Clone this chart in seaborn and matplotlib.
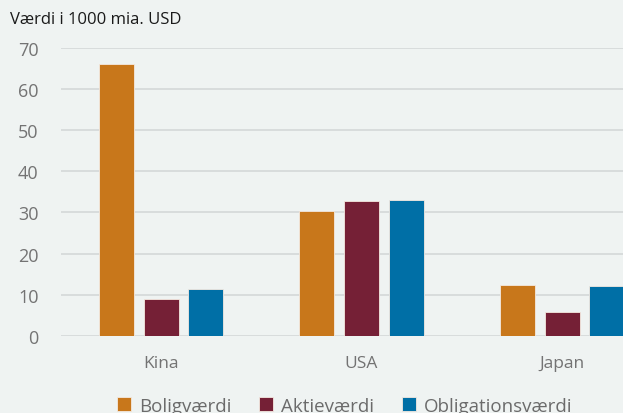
import matplotlib
matplotlib.use("Agg")
import matplotlib.pyplot as plt
import seaborn as sns
import pandas as pd

countries = ['Kina', 'USA', 'Japan']
series = ['Boligværdi', 'Aktieværdi', 'Obligationsværdi']
bolig = [66.1, 30.4, 12.4]
aktie = [8.9, 32.8, 5.8]
oblig = [11.4, 33.1, 12.1]
yticks = [0, 10, 20, 30, 40, 50, 60, 70]
colors = ['#C8771B', '#752036', '#006FA6']

df = pd.DataFrame({
    'Land': countries * 3,
    'Type': [s for s in series for _ in countries],
    'Værdi': bolig + aktie + oblig,
})

bg = '#EFF3F2'
sns.set_theme(style="white")
plt.rcParams['font.family'] = ['Open Sans', 'DejaVu Sans']

fig = plt.figure(figsize=(6.23, 4.14), dpi=100, facecolor=bg)
ax = fig.add_axes([60.8 / 623, 77.3 / 414, (623 - 60.8) / 623, 287.7 / 414])
ax.set_facecolor(bg)

sns.barplot(data=df, x='Land', y='Værdi', hue='Type', order=countries,
            hue_order=series, palette=colors, width=0.672, gap=0.22,
            edgecolor='#f4e9e0', linewidth=0.6, saturation=1, ax=ax)

ax.set_xlim(-0.5, 2.304)
ax.set_ylim(0, 70)
ax.set_yticks(yticks)
ax.yaxis.grid(True, color='#d6dada', linewidth=1.3)
ax.set_axisbelow(True)
for s in ax.spines.values():
    s.set_visible(False)
ax.tick_params(axis='y', length=0, pad=16, labelsize=13, labelcolor='#737373')
ax.tick_params(axis='x', length=0, pad=14, labelsize=12.5, labelcolor='#737373')
ax.set_xlabel('')
ax.set_ylabel('')

fig.text(10 / 623, 1 - 20 / 414, 'Værdi i 1000 mia. USD', fontsize=12,
         color='#1a1a1a', va='center', ha='left')

handles, labels = ax.get_legend_handles_labels()
ax.get_legend().remove()
fig.legend(handles, labels, ncol=3, loc='center', bbox_to_anchor=(0.553, 0.018),
           frameon=False, fontsize=13.5, handlelength=0.75, handleheight=0.75,
           handletextpad=0.4, columnspacing=1.5, labelcolor='#6b6b6b')

fig.savefig('out.png', dpi=100, facecolor=bg)
